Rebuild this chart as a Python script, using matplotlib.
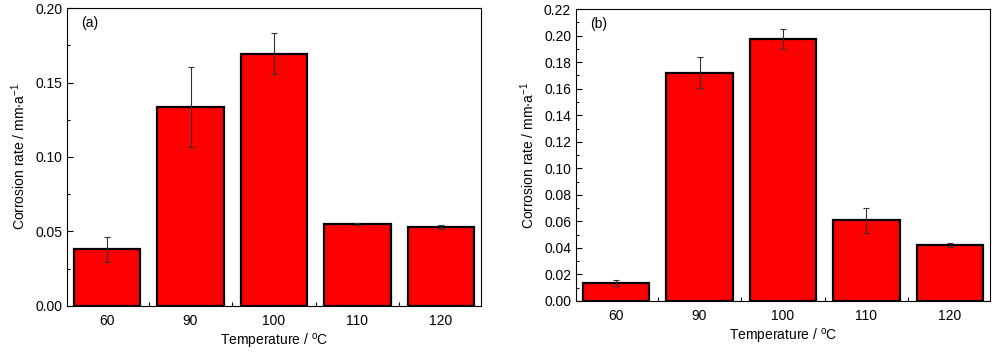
import numpy as np
import matplotlib
matplotlib.use("Agg")
import matplotlib.pyplot as plt
from matplotlib.ticker import MultipleLocator, FixedLocator, FormatStrFormatter

plt.rcParams["font.family"] = "Liberation Sans"
plt.rcParams["mathtext.fontset"] = "custom"
plt.rcParams["mathtext.rm"] = "Liberation Sans"
plt.rcParams["mathtext.it"] = "Liberation Sans"
plt.rcParams["mathtext.default"] = "regular"

# Data
temps = ["60", "90", "100", "110", "120"]
rate_a = [0.038, 0.1336, 0.1695, 0.0553, 0.0528]
err_a = [0.0085, 0.027, 0.0137, 0.0007, 0.0012]
rate_b = [0.0136, 0.172, 0.1978, 0.0608, 0.0425]
err_b = [0.0023, 0.0117, 0.0075, 0.0095, 0.0015]

fig = plt.figure(figsize=(10, 3.52), dpi=100)
ax1 = fig.add_axes([0.067, 0.131, 0.414, 0.846])
ax2 = fig.add_axes([0.576, 0.145, 0.414, 0.829])


def draw_panel(ax, vals, errs, ymax, major, minor, tag):
    x = np.arange(len(temps))
    ax.bar(x, vals, width=0.8, color="#ff0000", edgecolor="black", linewidth=1.6, zorder=2)
    ax.errorbar(x, vals, yerr=errs, fmt="none", ecolor="#333333", elinewidth=0.8,
                capsize=2, capthick=0.8, zorder=3)
    ax.set_xlim(-0.48, 4.48)
    ax.set_ylim(0, ymax)
    ax.set_xticks(x)
    ax.set_xticklabels(temps)
    ax.xaxis.set_minor_locator(FixedLocator(x[:-1] + 0.5))
    ax.yaxis.set_major_locator(MultipleLocator(major))
    ax.yaxis.set_minor_locator(MultipleLocator(minor))
    ax.yaxis.set_major_formatter(FormatStrFormatter("%.2f"))
    ax.tick_params(axis="x", which="major", length=0, pad=6, labelsize=10)
    ax.tick_params(axis="x", which="minor", direction="in", length=3, width=0.8)
    ax.tick_params(axis="y", which="major", direction="in", length=4, width=0.8, labelsize=10)
    ax.tick_params(axis="y", which="minor", direction="in", length=2, width=0.8)
    ax.set_xlabel("Temperature / $^{o}$C", fontsize=10, labelpad=3)
    ax.set_ylabel("Corrosion rate / mm$\\cdot$a$^{-1}$", fontsize=10, labelpad=5)
    ax.text(0.035, 0.95, tag, transform=ax.transAxes, fontsize=10, va="center", ha="left")
    for s in ax.spines.values():
        s.set_linewidth(0.8)


draw_panel(ax1, rate_a, err_a, 0.20, 0.05, 0.025, "(a)")
draw_panel(ax2, rate_b, err_b, 0.22, 0.02, 0.01, "(b)")

fig.savefig("out.png", dpi=100)
